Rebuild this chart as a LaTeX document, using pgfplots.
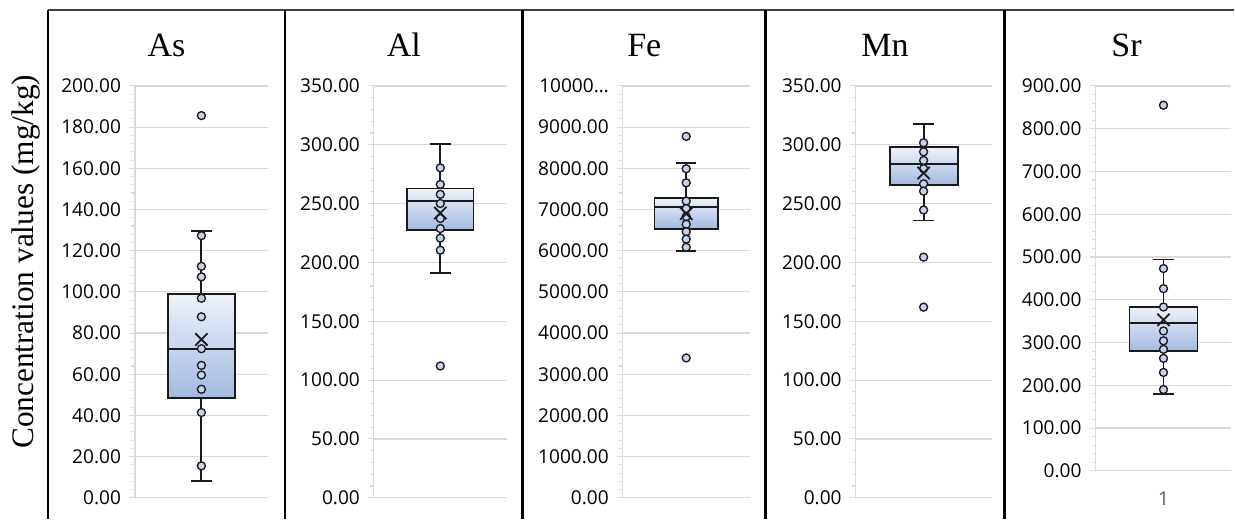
\documentclass[border=0pt]{standalone}
\usepackage{pgfplots}
\pgfplotsset{compat=1.18}
\usepackage{fontspec}
\setmainfont{Liberation Serif}
\newfontfamily\tickfont{Open Sans}
\definecolor{gridgray}{HTML}{D9D9D9}
\definecolor{boxtop}{HTML}{EEF2FA}
\definecolor{boxbot}{HTML}{A3B9E1}
\definecolor{ptfill}{HTML}{C3D3EE}
\definecolor{edge}{HTML}{1A1A1A}
\definecolor{xlab}{HTML}{595959}
\pgfplotsset{
  panel/.style={
    scale only axis, anchor=south west,
    xmin=0, xmax=2, ymin=0,
    axis lines*=left,
    axis line style={gridgray, line width=0.9pt, -},
    xtick=\empty,
    scaled y ticks=false,
    ymajorgrids=true,
    major grid style={gridgray, line width=0.9pt},
    minor y tick num=4,
    tick align=outside,
    major tick length=4.5pt,
    minor tick length=3pt,
    tick style={gridgray, line width=0.8pt},
    yticklabel style={font=\tickfont\fontsize{14.3}{17}\selectfont, text=black, xshift=-2.5pt},
    clip=false,
  },
  pts/.style={only marks, mark=*, mark size=3pt, mark options={fill=ptfill, draw=edge, line width=1pt}},
  meanmk/.style={only marks, mark=x, mark size=6.5pt, mark options={draw=edge, line width=1.4pt}},
  bl/.style={draw=edge, line width=1.4pt},
}
\newcommand{\drawbox}[5]{%
  \addplot[draw=none, top color=boxtop, bottom color=boxbot] coordinates {(0.5,#1) (1.5,#1) (1.5,#2) (0.5,#2)} -- cycle;
  \addplot[bl] coordinates {(0.5,#1) (1.5,#1) (1.5,#2) (0.5,#2)} -- cycle;
  \addplot[bl] coordinates {(0.5,#3) (1.5,#3)};
  \addplot[bl] coordinates {(1,#2) (1,#5)};
  \addplot[bl] coordinates {(1,#1) (1,#4)};
  \addplot[bl] coordinates {(0.84,#5) (1.16,#5)};
  \addplot[bl] coordinates {(0.84,#4) (1.16,#4)};
}
\begin{document}
\begin{tikzpicture}
\path (0,0) rectangle (926.25pt,389.25pt);
% frames
\draw[black!75, line width=0.8pt] (36pt,381.75pt) -- (926.25pt,381.75pt);
\draw[black, line width=1.2pt] (36pt,0) -- (36pt,382pt);
\foreach \xx in {213.75,392.25,574.5,753.75}{
  \draw[black, line width=2pt] (\xx pt,0) -- (\xx pt,382pt);
}
% y label
\node[rotate=90, anchor=base, font=\fontsize{23.5}{28}\selectfont] at (25.1pt,192.75pt) {Concentration values (mg/kg)};
% titles
\foreach \xx/\tt in {124.9/As, 303/Al, 483.4/Fe, 664.1/Mn, 845.25/Sr}{
  \node[anchor=base, font=\fontsize{25.5}{30}\selectfont] at (\xx pt,346.5pt) {\tt};
}
% As
\begin{axis}[panel, at={(101.25pt,15.75pt)}, width=99.75pt, height=309pt, ymax=200,
  ytick={0,20,...,200},
  yticklabels={0.00,20.00,40.00,60.00,80.00,100.00,120.00,140.00,160.00,180.00,200.00}]
\drawbox{48.6}{98.9}{72.4}{8.2}{129.4}
\addplot[pts] coordinates {(1,185.6) (1,127.3) (1,112.4) (1,107.3) (1,96.9) (1,87.9) (1,72.4) (1,64.3) (1,59.6) (1,52.7) (1,41.4) (1,15.5)};
\addplot[meanmk] coordinates {(1,76.9)};
\end{axis}
% Al
\begin{axis}[panel, at={(280.5pt,15.75pt)}, width=99.75pt, height=309pt, ymax=350,
  ytick={0,50,...,350},
  yticklabels={0.00,50.00,100.00,150.00,200.00,250.00,300.00,350.00}]
\drawbox{227.5}{262.8}{252.3}{191}{300.4}
\addplot[pts] coordinates {(1,280.4) (1,266.3) (1,257.9) (1,250.1) (1,237.4) (1,228.8) (1,220.7) (1,210.4) (1,112)};
\addplot[meanmk] coordinates {(1,242)};
\end{axis}
% Fe
\begin{axis}[panel, at={(467.25pt,15.75pt)}, width=95.25pt, height=309pt, ymax=10000,
  ytick={0,1000,...,10000},
  yticklabels={0.00,1000.00,2000.00,3000.00,4000.00,5000.00,6000.00,7000.00,8000.00,9000.00,{10000…}}]
\drawbox{6535}{7278}{7060}{5990}{8136}
\addplot[pts] coordinates {(1,8775) (1,7990) (1,7648) (1,7205) (1,7022) (1,6826) (1,6642) (1,6460) (1,6280) (1,6083) (1,3395)};
\addplot[meanmk] coordinates {(1,6900)};
\end{axis}
% Mn
\begin{axis}[panel, at={(642pt,15.75pt)}, width=102pt, height=309pt, ymax=350,
  ytick={0,50,...,350},
  yticklabels={0.00,50.00,100.00,150.00,200.00,250.00,300.00,350.00}]
\drawbox{265.6}{298.3}{283.6}{235.7}{317.7}
\addplot[pts] coordinates {(1,301.7) (1,294) (1,286.7) (1,279.7) (1,266.8) (1,260.6) (1,244.6) (1,204.5) (1,162)};
\addplot[meanmk] coordinates {(1,276)};
\end{axis}
% Sr
\begin{axis}[panel, at={(822pt,36pt)}, width=102pt, height=288.75pt, ymax=900,
  ytick={0,100,...,900},
  yticklabels={0.00,100.00,200.00,300.00,400.00,500.00,600.00,700.00,800.00,900.00},
  xtick={1}, xticklabels={1}, xtick style={draw=none},
  xticklabel style={font=\tickfont\fontsize{14.3}{17}\selectfont, text=xlab, yshift=-8pt}]
\drawbox{280}{384}{346}{180}{494}
\addplot[pts] coordinates {(1,855) (1,473) (1,426) (1,383) (1,327) (1,304) (1,284) (1,263) (1,230) (1,190)};
\addplot[meanmk] coordinates {(1,353)};
\end{axis}
\end{tikzpicture}
\end{document}
